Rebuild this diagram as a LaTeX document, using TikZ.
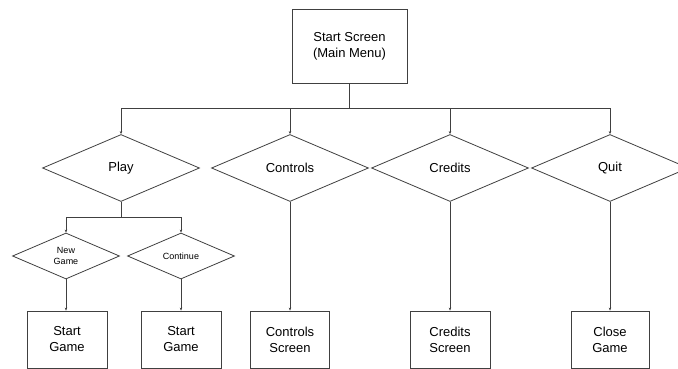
\documentclass[tikz,border=0pt]{standalone}
\usepackage{fontspec}
\setmainfont{Liberation Sans}
\usetikzlibrary{shapes.geometric,arrows.meta,positioning}

\begin{document}
\begin{tikzpicture}[x=1pt,y=-1pt, line width=0.8pt, draw=black!75,
	box/.style={rectangle, draw=black!75, align=center, font=\fontsize{13}{16}\selectfont, inner sep=0pt},
	choice/.style={diamond, draw=black!75, shape aspect=2.3, inner sep=0pt, minimum width=157pt, minimum height=67pt, font=\fontsize{13}{16}\selectfont},
	subchoice/.style={choice, minimum width=107pt, minimum height=46pt, align=center, font=\fontsize{9}{11}\selectfont},
	arr/.style={-{Stealth[length=3pt,width=2.5pt]}, draw=black!75}]
	\clip (0,0) rectangle (678,369);
	\fill[white] (0,0) rectangle (678,369);

	% top of the menu
	\node[box, minimum width=115pt, minimum height=74pt] (main) at (349.5,46) {Start Screen\\(Main Menu)};

	\node[choice] (play)     at (121,168) {Play};
	\node[choice] (controls) at (290,168) {Controls};
	\node[choice] (credits)  at (450,168) {Credits};
	\node[choice] (quit)     at (610,168) {Quit};

	\node[subchoice] (newgame)  at (66,256)  {New\\Game};
	\node[subchoice] (continue) at (181,256) {Continue};

	\node[box, minimum width=80pt, minimum height=57pt] (startA)   at (67,339.5)  {Start\\Game};
	\node[box, minimum width=80pt, minimum height=57pt] (startB)   at (181,339.5) {Start\\Game};
	\node[box, minimum width=79pt, minimum height=57pt] (ctrlscr)  at (290,339.5) {Controls\\Screen};
	\node[box, minimum width=80pt, minimum height=57pt] (credscr)  at (450,339.5) {Credits\\Screen};
	\node[box, minimum width=78pt, minimum height=57pt] (closegm)  at (610,339.5) {Close\\Game};

	\coordinate (bus) at (349.5,108);
	\coordinate (sub) at (121,217);

	% menu branches
	\draw[arr] (main.south) -- (bus) -| (play.north);
	\draw[arr] (bus) -| (controls.north);
	\draw[arr] (bus) -| (credits.north);
	\draw[arr] (bus) -| (quit.north);

	\draw[arr] (play.south) -- (sub) -| (newgame.north);
	\draw[arr] (sub) -| (continue.north);

	\draw[arr] (newgame.south) -- (newgame.south |- startA.north);
	\draw[arr] (continue) -- (startB);
	\draw[arr] (controls) -- (ctrlscr);
	\draw[arr] (credits) -- (credscr);
	\draw[arr] (quit) -- (closegm);
\end{tikzpicture}
\end{document}
